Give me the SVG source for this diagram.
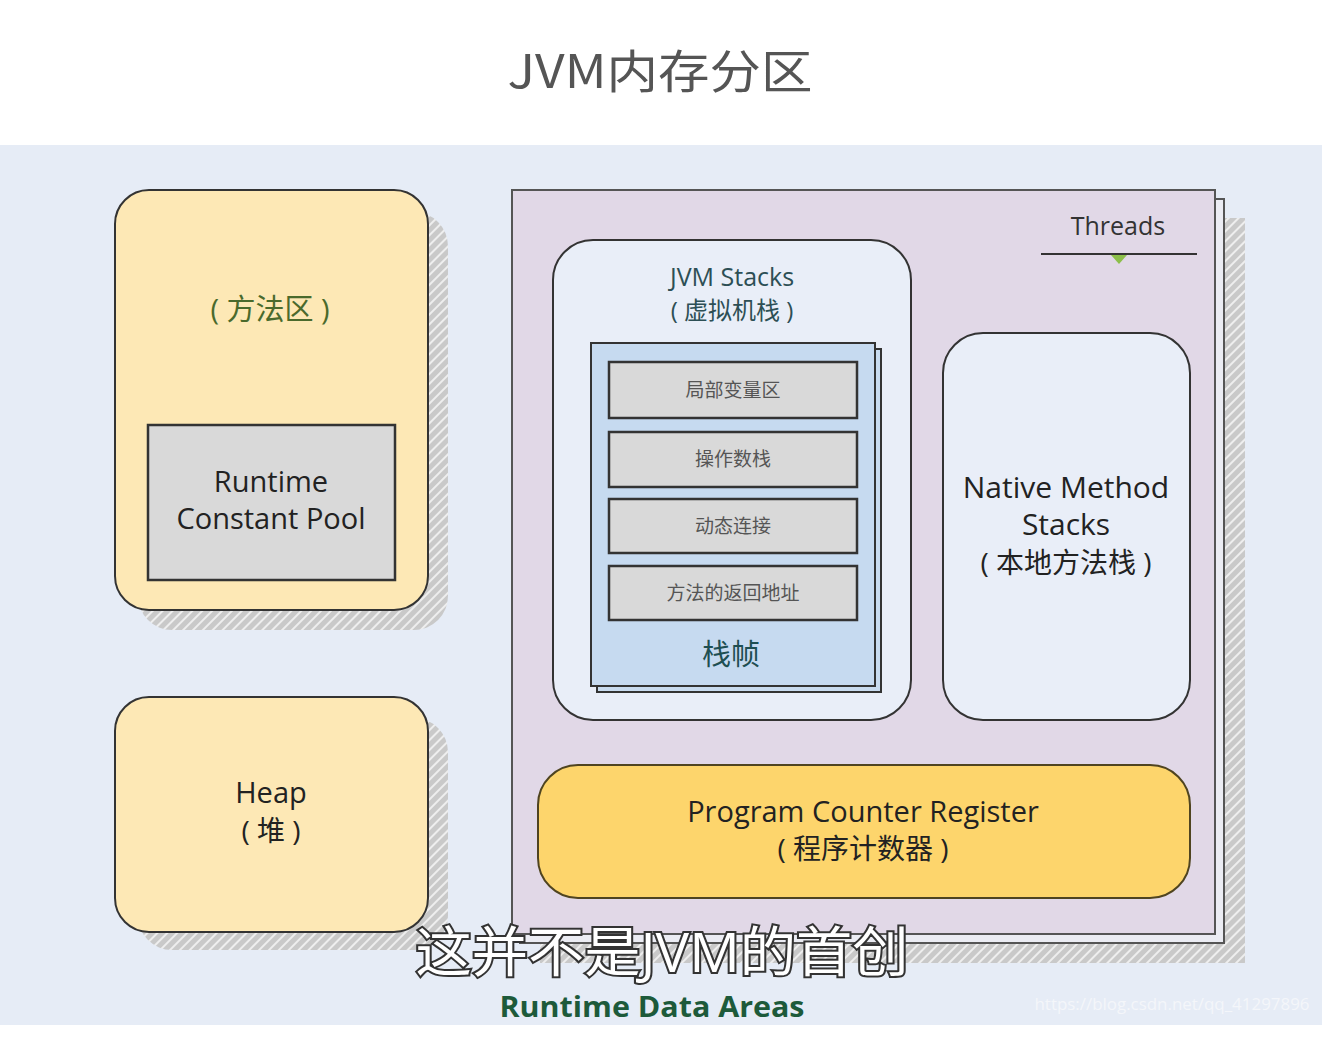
<svg xmlns="http://www.w3.org/2000/svg" width="1322" height="1038" viewBox="0 0 1322 1038">
<defs>
<pattern id="hatch" patternUnits="userSpaceOnUse" width="7" height="7" patternTransform="rotate(45)">
<rect width="7" height="7" fill="#c9c9c9"/>
<rect width="2" height="7" fill="#eeeeee"/>
</pattern>
<style>
.t{font-family:"Open Sans","Noto Sans","Noto Sans CJK SC",sans-serif;text-anchor:middle;}
.cjk{font-family:"Noto Sans CJK SC","Noto Sans",sans-serif;text-anchor:middle;}
.box{stroke:#333;stroke-width:2;}
.yel{fill:#fde8b5;}
.light{fill:#e9eef8;}
.gray{fill:#d9d9d9;stroke:#333;stroke-width:2.5;}
.frame{font-family:"Noto Sans CJK SC",sans-serif;font-size:19px;fill:#555;text-anchor:middle;}
</style>
</defs>
<rect width="1322" height="1038" fill="#ffffff"/>
<text class="cjk" x="660" y="88" font-size="46" fill="#555" textLength="305" lengthAdjust="spacingAndGlyphs">JVM内存分区</text>
<rect x="0" y="145" width="1322" height="880" fill="#e6ecf6"/>

<g id="method-area">
<rect x="138" y="212" width="310" height="418" rx="34" fill="url(#hatch)"/>
<rect x="115" y="190" width="313" height="420" rx="34" class="box yel"/>
<text class="t" x="270" y="320" font-size="29" fill="#4a6a2c">( 方法区 )</text>
</g>
<g id="runtime-constant-pool">
<rect x="148" y="425" width="247" height="155" class="gray"/>
<text class="t" x="271" y="492" font-size="29" fill="#222">Runtime</text>
<text class="t" x="271" y="529" font-size="29" fill="#222">Constant Pool</text>
</g>

<g id="heap">
<rect x="138" y="718" width="310" height="232" rx="34" fill="url(#hatch)"/>
<rect x="115" y="697" width="313" height="235" rx="34" class="box yel"/>
<text class="t" x="271" y="803" font-size="29" fill="#222">Heap</text>
<text class="t" x="271" y="841" font-size="28" fill="#222">( 堆 )</text>
</g>

<g id="threads">
<rect x="540" y="218" width="705" height="745" fill="url(#hatch)"/>
<rect x="520" y="199" width="704" height="744" fill="#ebecf3" stroke="#555" stroke-width="2"/>
<rect x="512" y="190" width="703" height="744" fill="#e1d8e7" stroke="#555" stroke-width="2"/>
<text class="t" x="1118" y="235" font-size="25" fill="#333">Threads</text>
<line x1="1041" y1="254" x2="1197" y2="254" stroke="#333" stroke-width="2"/>
<polygon points="1111,255 1127,255 1119,264" fill="#8cbf4a"/>
</g>

<g id="jvm-stacks">
<rect x="553" y="240" width="358" height="480" rx="40" class="box light"/>
<text class="t" x="732" y="286" font-size="25" fill="#2d4f55">JVM Stacks</text>
<text class="t" x="732" y="319" font-size="24" fill="#2d4f55">( 虚拟机栈 )</text>
</g>

<g id="stack-frame">
<rect x="597" y="349" width="284" height="343" fill="#c8dbef" stroke="#333" stroke-width="2"/>
<rect x="591" y="343" width="284" height="343" fill="#c6daf0" stroke="#333" stroke-width="2"/>
<text class="cjk" x="731" y="665" font-size="29" fill="#1e4f52">栈帧</text>
</g>
<g id="local-vars">
<rect x="609" y="362" width="248" height="56" class="gray"/>
<text class="frame" x="733" y="397">局部变量区</text>
</g>
<g id="operand-stack">
<rect x="609" y="432" width="248" height="55" class="gray"/>
<text class="frame" x="733" y="466">操作数栈</text>
</g>
<g id="dynamic-link">
<rect x="609" y="499" width="248" height="54" class="gray"/>
<text class="frame" x="733" y="533">动态连接</text>
</g>
<g id="return-address">
<rect x="609" y="566" width="248" height="54" class="gray"/>
<text class="frame" x="733" y="600">方法的返回地址</text>
</g>

<g id="native-method-stacks">
<rect x="943" y="333" width="247" height="387" rx="40" class="box light"/>
<text class="t" x="1066" y="498" font-size="30" fill="#222">Native Method</text>
<text class="t" x="1066" y="535" font-size="30" fill="#222">Stacks</text>
<text class="t" x="1066" y="573" font-size="28" fill="#222">( 本地方法栈 )</text>
</g>

<g id="pc-register">
<rect x="538" y="765" width="652" height="133" rx="40" fill="#fdd56c" stroke="#4f4420" stroke-width="2"/>
<text class="t" x="863" y="822" font-size="29" fill="#222">Program Counter Register</text>
<text class="t" x="863" y="859" font-size="28" fill="#222">( 程序计数器 )</text>
</g>

<g id="connectors"></g>

<text class="t" x="652" y="1017" font-size="28" font-weight="bold" fill="#1d5a3a" textLength="305" lengthAdjust="spacingAndGlyphs">Runtime Data Areas</text>
<text class="t" x="1172" y="1010" font-size="17" fill="#f4f6fa" textLength="275" lengthAdjust="spacingAndGlyphs">https://blog.csdn.net/qq_41297896</text>
<text class="t" x="662" y="972" font-size="54" fill="#ffffff" stroke="#333" stroke-width="4" paint-order="stroke" textLength="493" lengthAdjust="spacingAndGlyphs">这并不是JVM的首创</text>
</svg>
